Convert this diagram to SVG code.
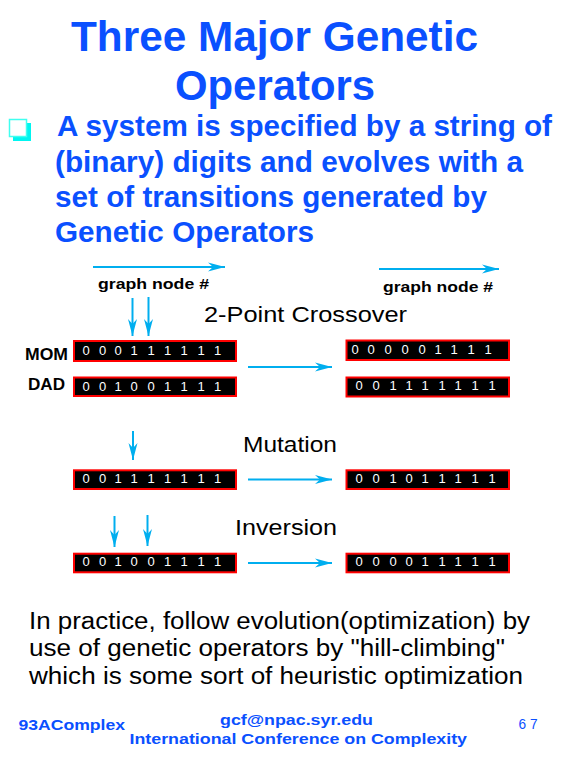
<svg xmlns="http://www.w3.org/2000/svg" width="569" height="759" viewBox="0 0 569 759">
<style>
.title{font-family:"Liberation Sans",Arial,sans-serif;font-weight:bold;font-size:42px;fill:#0A50FF}
.bul{font-family:"Liberation Sans",Arial,sans-serif;font-weight:bold;font-size:29px;fill:#0A50FF}
.lbl{font-family:"Liberation Sans",Arial,sans-serif;font-weight:bold;font-size:15px;fill:#000}
.op{font-family:"Liberation Sans",Arial,sans-serif;font-size:22px;fill:#000}
.par{font-family:"Liberation Sans",Arial,sans-serif;font-weight:bold;font-size:16px;fill:#000}
.box{fill:#000;stroke:#FF0000;stroke-width:2}
.dig{font-family:"Liberation Sans",Arial,sans-serif;font-size:13px;fill:#fff;text-anchor:middle}
.body{font-family:"Liberation Sans",Arial,sans-serif;font-size:23px;fill:#000}
.foot{font-family:"Liberation Sans",Arial,sans-serif;font-weight:bold;font-size:15px;fill:#0A50FF}
.arr{stroke:#00AEEF;stroke-width:2;fill:none;marker-end:url(#ah)}
</style>
<defs>
<marker id="ah" markerWidth="18" markerHeight="10" refX="17" refY="5" orient="auto" markerUnits="userSpaceOnUse" viewBox="0 0 18 10">
<path d="M0,0.5 L17,5 L0,9.5 L5,5 Z" fill="#00AEEF"/>
</marker>
</defs>
<rect width="569" height="759" fill="#fff"/>

<g id="title">
<text class="title" x="71" y="51" textLength="407" lengthAdjust="spacingAndGlyphs">Three Major Genetic</text>
<text class="title" x="175" y="100" textLength="200" lengthAdjust="spacingAndGlyphs">Operators</text>
</g>

<g id="bullet">
<rect x="13" y="123" width="18" height="18" fill="#00F5F0"/>
<rect x="9.5" y="119.5" width="17" height="17" fill="#fff" stroke="#40FFF0" stroke-width="1.5"/>
<text class="bul" x="57" y="136" textLength="495" lengthAdjust="spacingAndGlyphs">A system is specified by a string of</text>
<text class="bul" x="55" y="172" textLength="468" lengthAdjust="spacingAndGlyphs">(binary) digits and evolves with a</text>
<text class="bul" x="55" y="207" textLength="432" lengthAdjust="spacingAndGlyphs">set of transitions generated by</text>
<text class="bul" x="55" y="242" textLength="259" lengthAdjust="spacingAndGlyphs">Genetic Operators</text>
</g>

<g id="labels">
<text class="lbl" x="98" y="289" textLength="111" lengthAdjust="spacingAndGlyphs">graph node #</text>
<text class="lbl" x="383" y="292" textLength="110" lengthAdjust="spacingAndGlyphs">graph node #</text>
<text class="op" x="204" y="321.5" textLength="203" lengthAdjust="spacingAndGlyphs">2-Point Crossover</text>
<text class="op" x="243" y="451.5" textLength="94" lengthAdjust="spacingAndGlyphs">Mutation</text>
<text class="op" x="235" y="535" textLength="102" lengthAdjust="spacingAndGlyphs">Inversion</text>
<text class="par" x="25" y="360" textLength="43" lengthAdjust="spacingAndGlyphs">MOM</text>
<text class="par" x="28" y="390" textLength="37" lengthAdjust="spacingAndGlyphs">DAD</text>
</g>

<g id="mom">
<rect class="box" x="74" y="341" width="162" height="20"/>
<text class="dig" y="355"><tspan x="86">0</tspan><tspan x="102.5">0</tspan><tspan x="118">0</tspan><tspan x="134">1</tspan><tspan x="151">1</tspan><tspan x="167.5">1</tspan><tspan x="184">1</tspan><tspan x="201">1</tspan><tspan x="217.5">1</tspan></text>
</g>
<g id="dad">
<rect class="box" x="74" y="377.5" width="162" height="18.5"/>
<text class="dig" y="390.5"><tspan x="86">0</tspan><tspan x="102.5">0</tspan><tspan x="118">1</tspan><tspan x="134">0</tspan><tspan x="151">0</tspan><tspan x="167.5">1</tspan><tspan x="184">1</tspan><tspan x="201">1</tspan><tspan x="217.5">1</tspan></text>
</g>
<g id="child1">
<rect class="box" x="346.5" y="340.5" width="162.5" height="19.5"/>
<text class="dig" y="354"><tspan x="355">0</tspan><tspan x="371">0</tspan><tspan x="388">0</tspan><tspan x="405">0</tspan><tspan x="422">0</tspan><tspan x="438">1</tspan><tspan x="454">1</tspan><tspan x="471">1</tspan><tspan x="488">1</tspan></text>
</g>
<g id="child2">
<rect class="box" x="346.5" y="377.5" width="162.5" height="19"/>
<text class="dig" y="390"><tspan x="359">0</tspan><tspan x="376">0</tspan><tspan x="393">1</tspan><tspan x="409">1</tspan><tspan x="425">1</tspan><tspan x="442">1</tspan><tspan x="458">1</tspan><tspan x="475">1</tspan><tspan x="492">1</tspan></text>
</g>
<g id="mut-before">
<rect class="box" x="74" y="470.3" width="162" height="18.7"/>
<text class="dig" y="482.5"><tspan x="86">0</tspan><tspan x="102.5">0</tspan><tspan x="118">1</tspan><tspan x="134">1</tspan><tspan x="151">1</tspan><tspan x="167.5">1</tspan><tspan x="184">1</tspan><tspan x="201">1</tspan><tspan x="217.5">1</tspan></text>
</g>
<g id="mut-after">
<rect class="box" x="346.5" y="470.3" width="162.5" height="18.7"/>
<text class="dig" y="482.5"><tspan x="359">0</tspan><tspan x="376">0</tspan><tspan x="393">1</tspan><tspan x="409">0</tspan><tspan x="425">1</tspan><tspan x="442">1</tspan><tspan x="458">1</tspan><tspan x="475">1</tspan><tspan x="492">1</tspan></text>
</g>
<g id="inv-before">
<rect class="box" x="74" y="553.7" width="162" height="18.6"/>
<text class="dig" y="565.5"><tspan x="86">0</tspan><tspan x="102.5">0</tspan><tspan x="118">1</tspan><tspan x="134">0</tspan><tspan x="151">0</tspan><tspan x="167.5">1</tspan><tspan x="184">1</tspan><tspan x="201">1</tspan><tspan x="217.5">1</tspan></text>
</g>
<g id="inv-after">
<rect class="box" x="346.5" y="553.7" width="162.5" height="18.6"/>
<text class="dig" y="565.5"><tspan x="359">0</tspan><tspan x="376">0</tspan><tspan x="393">0</tspan><tspan x="409">0</tspan><tspan x="425">1</tspan><tspan x="442">1</tspan><tspan x="458">1</tspan><tspan x="475">1</tspan><tspan x="492">1</tspan></text>
</g>

<g id="connectors">
<line class="arr" x1="93" y1="267" x2="225" y2="267"/>
<line class="arr" x1="379" y1="269" x2="499" y2="269"/>
<line class="arr" x1="132.5" y1="298" x2="132.5" y2="336"/>
<line class="arr" x1="148.5" y1="297" x2="148.5" y2="336"/>
<line class="arr" x1="248" y1="367" x2="332" y2="367"/>
<line class="arr" x1="133" y1="431" x2="133" y2="460"/>
<line class="arr" x1="248" y1="479.5" x2="332" y2="479.5"/>
<line class="arr" x1="114.5" y1="516" x2="114.5" y2="547"/>
<line class="arr" x1="147.5" y1="515" x2="147.5" y2="546"/>
<line class="arr" x1="248" y1="563" x2="332" y2="563"/>
</g>

<g id="body">
<text class="body" x="29" y="628.5" textLength="501" lengthAdjust="spacingAndGlyphs">In practice, follow evolution(optimization) by</text>
<text class="body" x="29" y="655.5" textLength="476" lengthAdjust="spacingAndGlyphs">use of genetic operators by "hill-climbing"</text>
<text class="body" x="29" y="683.5" textLength="494" lengthAdjust="spacingAndGlyphs">which is some sort of heuristic optimization</text>
</g>

<g id="footer">
<text class="foot" x="18.5" y="729.5" textLength="106.5" lengthAdjust="spacingAndGlyphs">93AComplex</text>
<text class="foot" x="220" y="725" textLength="153" lengthAdjust="spacingAndGlyphs">gcf@npac.syr.edu</text>
<text class="foot" x="129.5" y="743.5" textLength="337.5" lengthAdjust="spacingAndGlyphs">International Conference on Complexity</text>
<text x="518.5" y="728.5" textLength="19" lengthAdjust="spacingAndGlyphs" style="font-family:'Liberation Sans',Arial,sans-serif;font-size:15px;fill:#0A50FF">6 7</text>
</g>
</svg>
